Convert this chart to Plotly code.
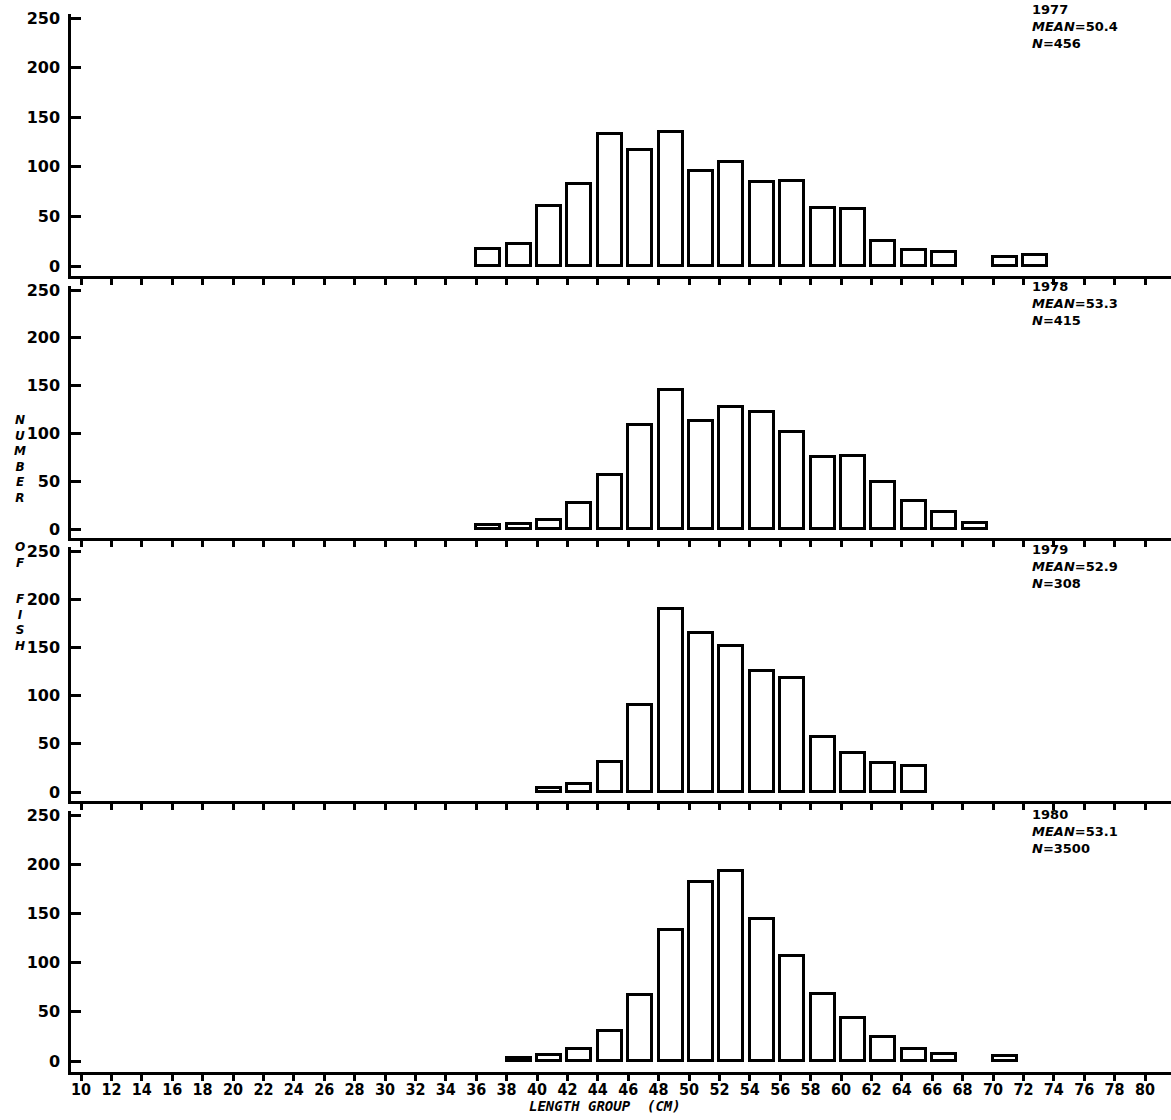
import plotly.graph_objects as go

# ---------------- data ----------------
years = ["1977", "1978", "1979", "1980"]
means = ["50.4", "53.3", "52.9", "53.1"]
sample_sizes = ["456", "415", "308", "3500"]

x_1977 = [36, 38, 40, 42, 44, 46, 48, 50, 52, 54, 56, 58, 60, 62, 64, 66, 70, 72]
n_1977 = [17, 22, 60, 83, 133, 117, 135, 96, 105, 85, 86, 58, 57, 25, 16, 14, 9, 11]

x_1978 = [36, 38, 40, 42, 44, 46, 48, 50, 52, 54, 56, 58, 60, 62, 64, 66, 68]
n_1978 = [4, 5, 9, 27, 57, 109, 145, 113, 128, 122, 101, 75, 76, 49, 29, 18, 6]

x_1979 = [40, 42, 44, 46, 48, 50, 52, 54, 56, 58, 60, 62, 64]
n_1979 = [4, 8, 31, 90, 190, 165, 151, 126, 118, 57, 40, 30, 27]

x_1980 = [38, 40, 42, 44, 46, 48, 50, 52, 54, 56, 58, 60, 62, 64, 66, 70]
n_1980 = [3, 6, 12, 30, 67, 133, 182, 193, 144, 107, 68, 44, 24, 12, 7, 5]

x_tick_values = [10, 12, 14, 16, 18, 20, 22, 24, 26, 28, 30, 32, 34, 36, 38, 40, 42, 44,
                 46, 48, 50, 52, 54, 56, 58, 60, 62, 64, 66, 68, 70, 72, 74, 76, 78, 80]
y_tick_values = [0, 50, 100, 150, 200, 250]

y_title_words = ["NUMBER", "OF", "FISH"]
x_title = "LENGTH GROUP  (CM)"

series_x = [x_1977, x_1978, x_1979, x_1980]
series_y = [n_1977, n_1978, n_1979, n_1980]

# ---------------- layout constants (page pixels) ----------------
W, H = 1171, 1120
PL, PR, PT, PB = 71, 1171, 4, 1072     # plot area in page pixels
ML, MR, MT, MB = PL, W - PR, PT, H - PB
PH = H - MT - MB
PW = W - ML - MR

# (page y of 250, page y of 0, page y of x-axis line)
panel_px = [(18, 266, 276), (290, 529, 538), (551, 792, 801), (815, 1061, 1072)]
label_top_px = [1, 278, 541, 806]          # top edge of the year/mean/N block
title_word_center_px = [459, 555, 622]     # centres of the stacked y-title words
# x axis: value 10 at page x 81, value 80 at page x 1145
px_per_cm = (1145 - 81) / 70.0
X_RANGE = [10 - (81 - PL) / px_per_cm, 80 + (PR - 1145) / px_per_cm]
BAR_W = 1.58


def pfrac_y(py):
    return (H - MB - py) / PH


def pfrac_x(px):
    return (px - ML) / PW


TICK_FONT_Y = dict(family="DejaVu Sans, sans-serif", size=16, color="black", weight="bold")
TICK_FONT_X = dict(family="Liberation Sans Narrow, DejaVu Sans Condensed, sans-serif",
                   size=16, color="black", weight="bold")
ANN_FONT = dict(family="DejaVu Sans, sans-serif", size=13, color="black", weight="bold")

fig = go.Figure()
layout = dict(
    width=W, height=H,
    margin=dict(l=ML, r=MR, t=MT, b=MB, autoexpand=False),
    paper_bgcolor="white", plot_bgcolor="white",
    showlegend=False,
    bargap=0,
)
annotations = []

for i in range(4):
    k = i + 1
    y250, y0, yax = panel_px[i]
    top_px = max(y250 - 4, PT)
    ppu = (y0 - y250) / 250.0
    ybot = -(yax - y0) / ppu
    ytop = 250 + (y250 - top_px) / ppu
    xa = "x" if k == 1 else f"x{k}"
    ya = "y" if k == 1 else f"y{k}"

    fig.add_trace(go.Bar(
        x=series_x[i], y=series_y[i],
        xaxis=xa, yaxis=ya,
        width=BAR_W, offset=0,
        marker=dict(color="white", line=dict(color="black", width=3)),
        hoverinfo="x+y",
    ))

    layout[f"xaxis{k}" if k > 1 else "xaxis"] = dict(
        domain=[0, 1], range=X_RANGE, anchor=ya, automargin=False,
        showline=True, linecolor="black", linewidth=3,
        ticks="outside", ticklen=6, tickwidth=3, tickcolor="black",
        tickvals=x_tick_values, ticktext=[str(v) for v in x_tick_values],
        showticklabels=(k == 4), tickfont=TICK_FONT_X, ticklabelstandoff=-5,
        showgrid=False, zeroline=False, fixedrange=True,
    )
    # overlay axis: inward half of the crossing ticks
    layout[f"xaxis{k + 4}"] = dict(
        overlaying=xa, range=X_RANGE, anchor=ya, automargin=False,
        showline=False, ticks="inside", ticklen=6, tickwidth=3, tickcolor="black",
        tickvals=x_tick_values, showticklabels=False,
        showgrid=False, zeroline=False, fixedrange=True,
    )
    layout[f"yaxis{k}" if k > 1 else "yaxis"] = dict(
        domain=[pfrac_y(yax), pfrac_y(top_px)], range=[ybot, ytop], anchor=xa,
        automargin=False,
        showline=True, linecolor="black", linewidth=2.5,
        ticks="inside", ticklen=10, tickwidth=2.5, tickcolor="black",
        tickvals=y_tick_values, ticktext=[str(v) for v in y_tick_values],
        tickfont=TICK_FONT_Y, ticklabelstandoff=5,
        showgrid=False, zeroline=False, fixedrange=True,
    )

    # year / mean / N block at top right
    block = "<br>".join([years[i], f"<i>MEAN</i>={means[i]}", f"<i>N</i>={sample_sizes[i]}"])
    annotations.append(dict(
        text=block, xref="paper", yref="paper",
        x=pfrac_x(1031), y=pfrac_y(label_top_px[i]),
        xanchor="left", yanchor="top", align="left",
        showarrow=False, font=ANN_FONT, borderpad=0,
    ))

# vertical y-axis title: stacked letters, one block per word
for word, py in zip(y_title_words, title_word_center_px):
    annotations.append(dict(
        text="<br>".join(f"<i>{ch}</i>" for ch in word), xref="paper", yref="paper",
        x=pfrac_x(20), y=pfrac_y(py),
        xanchor="center", yanchor="middle", align="center",
        showarrow=False, borderpad=0,
        font=dict(family="DejaVu Sans, sans-serif", size=12, color="black", weight="bold"),
    ))

# x-axis title
annotations.append(dict(
    text=f"<i>{x_title}</i>", xref="paper", yref="paper",
    x=pfrac_x(605), y=pfrac_y(1106),
    xanchor="center", yanchor="middle", showarrow=False,
    font=dict(family="DejaVu Sans Mono, monospace", size=14, color="black", weight="bold"),
))

layout["annotations"] = annotations
fig.update_layout(**layout)
fig.write_html(
    "out.html",
    config={"displayModeBar": False},
    post_script="document.body.style.margin='0';document.body.style.overflow='hidden';",
)
